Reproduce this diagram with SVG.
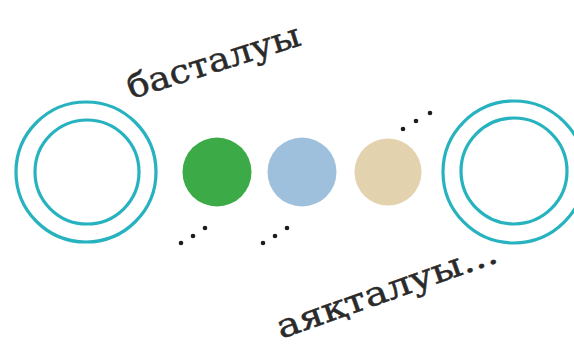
<svg xmlns="http://www.w3.org/2000/svg" width="574" height="347" viewBox="0 0 574 347">
<style>
.ring{fill:none;stroke:#26b3bf;stroke-width:3.2}
.dot{fill:#1c1c1c}
.lbl{font-family:"DejaVu Serif","Liberation Serif",serif;font-size:33px;fill:#2a2a2a;stroke:#2a2a2a;stroke-width:0.5}
</style>
<rect width="574" height="347" fill="#ffffff"/>
<g id="start">
<circle class="ring" cx="86" cy="172" r="70"/>
<circle class="ring" cx="87" cy="172" r="52"/>
</g>
<g id="green"><circle cx="217" cy="172" r="34.5" fill="#3cab47"/></g>
<g id="blue"><circle cx="302" cy="172" r="34.5" fill="#9fc0dd"/></g>
<g id="beige"><circle cx="388" cy="172" r="33.5" fill="#e2d3ae"/></g>
<g id="end">
<circle class="ring" cx="514" cy="172" r="71"/>
<circle class="ring" cx="514" cy="171" r="53"/>
</g>
<g id="dots">
<circle class="dot" cx="181" cy="243" r="2.3"/>
<circle class="dot" cx="193" cy="236" r="2.3"/>
<circle class="dot" cx="205" cy="228" r="2.3"/>
<circle class="dot" cx="263" cy="243" r="2.3"/>
<circle class="dot" cx="275" cy="236" r="2.3"/>
<circle class="dot" cx="287" cy="228" r="2.3"/>
<circle class="dot" cx="403" cy="129" r="2.3"/>
<circle class="dot" cx="416" cy="121" r="2.3"/>
<circle class="dot" cx="430" cy="113" r="2.3"/>
</g>
<g id="label-start">
<text class="lbl" x="131" y="99" textLength="180" lengthAdjust="spacingAndGlyphs" transform="rotate(-17.5 131 99)">басталуы</text>
</g>
<g id="label-end">
<text class="lbl" x="281" y="339" textLength="232" lengthAdjust="spacingAndGlyphs" transform="rotate(-19.5 281 339)">аяқталуы...</text>
</g>
<g id="connectors"/>
</svg>
